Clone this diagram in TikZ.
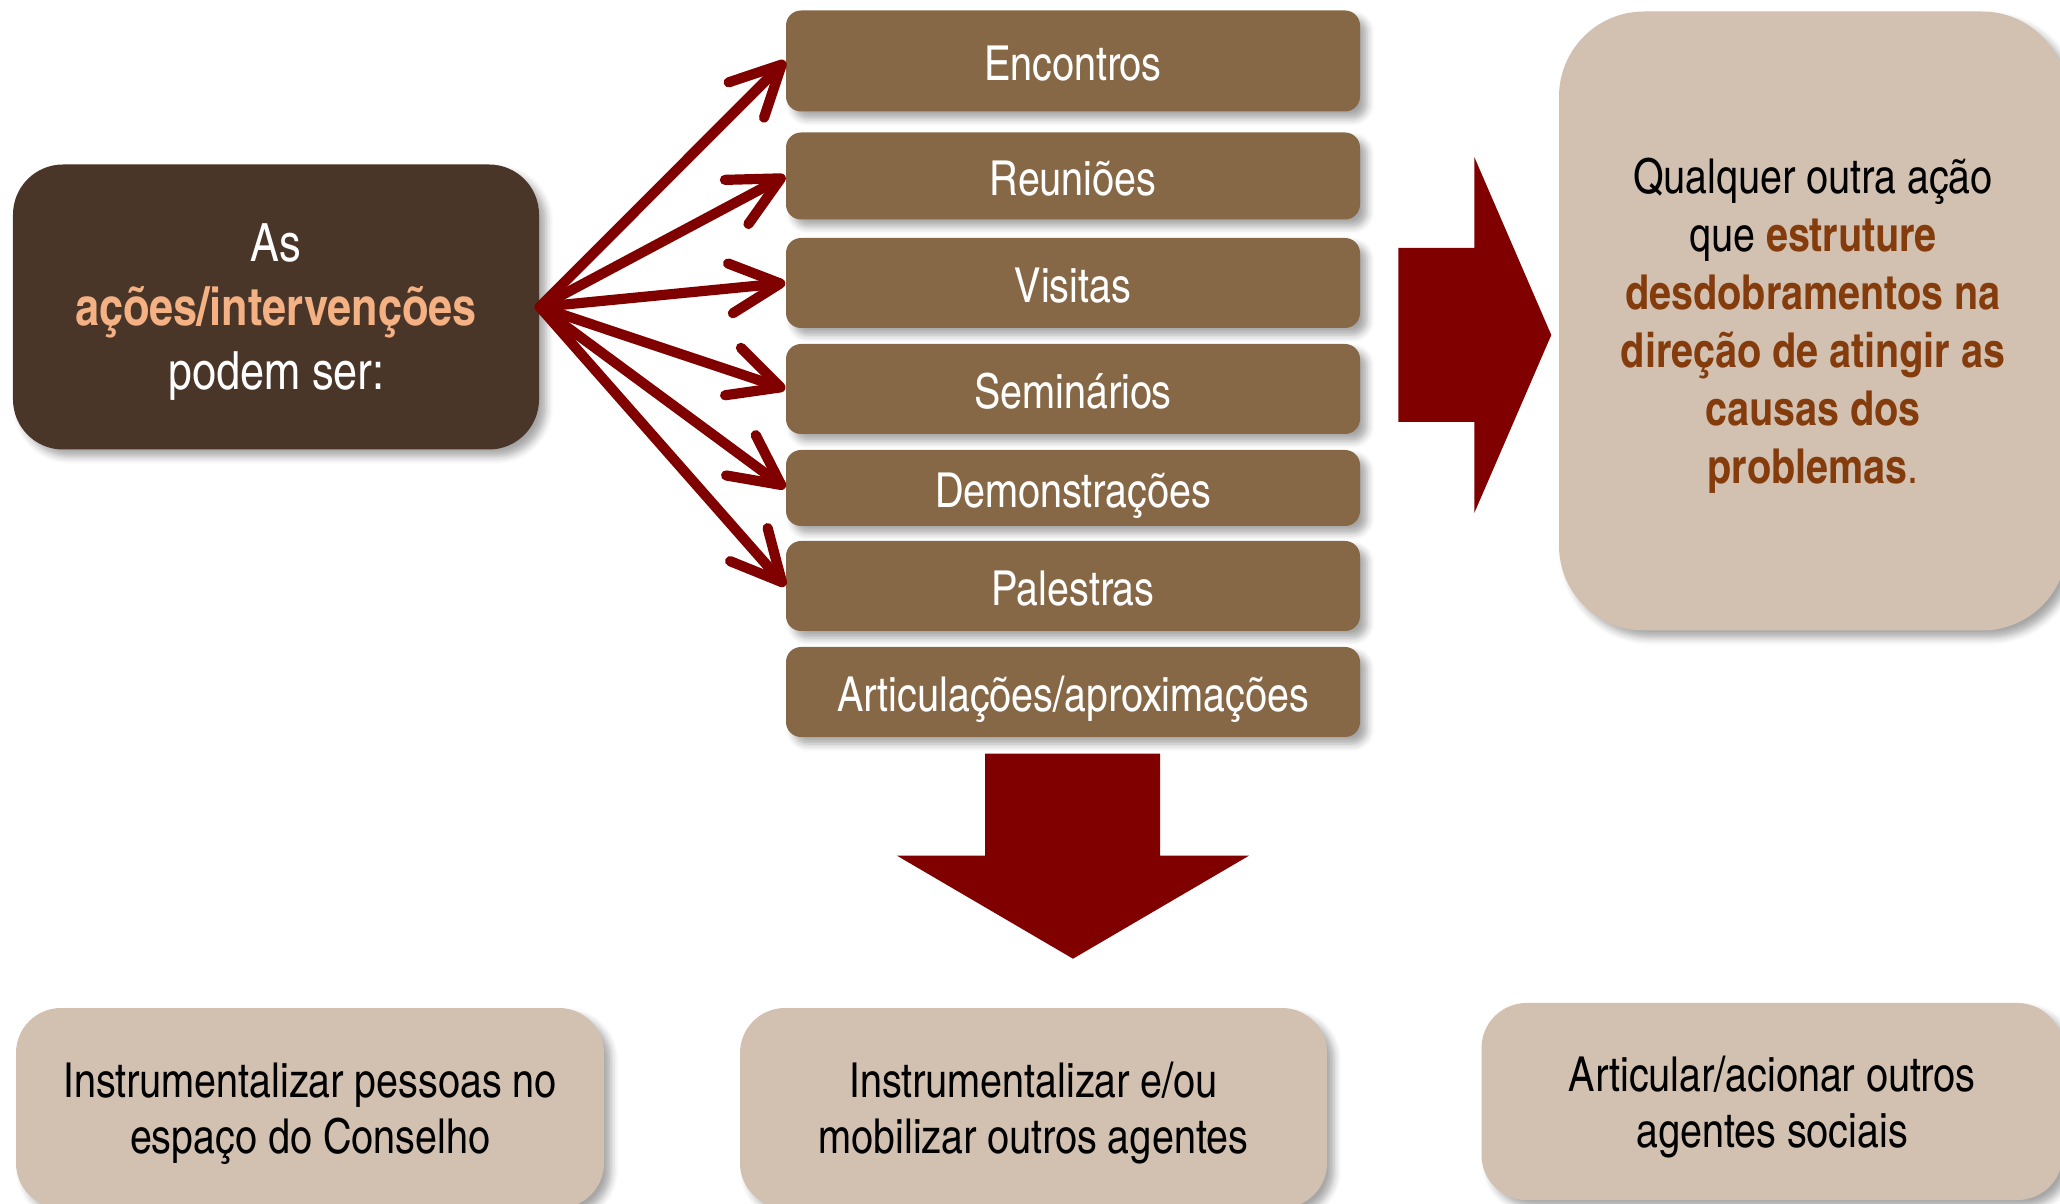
\documentclass[tikz,border=0pt]{standalone}
\usepackage{fontspec}
\setmainfont{texgyreheroscn}[Extension=.otf,UprightFont=*-regular,BoldFont=*-bold]
\usetikzlibrary{calc,arrows.meta,shadows.blur}
\definecolor{escuro}{HTML}{4A3629}
\definecolor{marrom}{HTML}{876846}
\definecolor{areia}{HTML}{D2C1B1}
\definecolor{pessego}{HTML}{F4B183}
\definecolor{ferrugem}{HTML}{843C0C}
\definecolor{vinho}{HTML}{800000}

\begin{document}
\begin{tikzpicture}[
sombra/.style={blur shadow={shadow xshift=0.7mm,shadow yshift=-0.7mm,shadow blur steps=5,shadow opacity=35}},
acao/.style={rectangle,fill=marrom,text=white,minimum width=57.4mm,minimum height=9mm,rounded corners=1.5mm,sombra,text height=11pt,text depth=0pt,font=\fontsize{13.7}{17}\selectfont},
efeito/.style={rectangle,fill=areia,align=center,rounded corners=4.5mm,sombra,text depth=0pt,font=\fontsize{13.7}{16}\selectfont},
seta/.style={-{Straight Barb[length=5mm,width=5mm,round]},line width=2.9pt,vinho,line cap=round,line join=round}
]
\useasboundingbox (0,0) rectangle (20.6,12.03);

\draw node [rectangle,fill=escuro,minimum width=52.6mm,minimum height=28.5mm,rounded corners=5mm,sombra,text=white,align=center,text depth=-2.2pt,font=\fontsize{15}{18.2}\selectfont] (acoes) at (2.76,8.96) {As\\\textbf{\color{pessego}ações/intervenções}\\podem ser:};

\draw node [acao,minimum height=10.1mm] (encontros) at (10.73,11.42) {Encontros};
\draw node [acao,minimum height=8.7mm] (reunioes) at (10.73,10.27) {Reuniões};
\draw node [acao] (visitas) at (10.73,9.20) {Visitas};
\draw node [acao] (seminarios) at (10.73,8.14) {Seminários};
\draw node [acao,minimum height=7.6mm] (demonstracoes) at (10.73,7.15) {Demonstrações};
\draw node [acao] (palestras) at (10.73,6.17) {Palestras};
\draw node [acao] (articulacoes) at (10.73,5.11) {Articulações/aproximações};

\draw[seta] (acoes.east) -- (encontros.west);
\draw[seta] (acoes.east) -- (reunioes.west);
\draw[seta] (acoes.east) -- (visitas.west);
\draw[seta] (acoes.east) -- (seminarios.west);
\draw[seta] (acoes.east) -- (demonstracoes.west);
\draw[seta] (acoes.east) -- (palestras.west);

\draw node [rectangle,fill=areia,minimum width=50.8mm,minimum height=61.9mm,rounded corners=8.5mm,sombra,align=center,text depth=-1pt,font=\fontsize{13.7}{16.5}\selectfont] (outra) at (18.13,8.82) {Qualquer outra ação\\que \textbf{\color{ferrugem}estruture}\\\textbf{\color{ferrugem}desdobramentos na}\\\textbf{\color{ferrugem}direção de atingir as}\\\textbf{\color{ferrugem}causas dos}\\\textbf{\color{ferrugem}problemas}{\color{ferrugem}.}};

\fill[vinho] ($ (outra.west)+(-1.60,0.73)$) -- ($ (outra.west)+(-0.84,0.73)$) -- ($ (outra.west)+(-0.84,1.64)$) -- ($ (outra.west)+(-0.07,-0.14)$) -- ($ (outra.west)+(-0.84,-1.92)$) -- ($ (outra.west)+(-0.84,-1.01)$) -- ($ (outra.west)+(-1.60,-1.01)$) -- cycle;

\draw node [efeito,minimum width=58.8mm,minimum height=20mm] (pessoas) at (3.10,0.95) {Instrumentalizar pessoas no\\espaço do Conselho};
\draw node [efeito,minimum width=58.7mm,minimum height=20mm] (agentes) at (10.335,0.95) {Instrumentalizar e/ou\\mobilizar outros agentes};
\draw node [efeito,minimum width=58.1mm,minimum height=19.7mm] (sociais) at (17.72,1.015) {Articular/acionar outros\\agentes sociais};

\fill[vinho] ($ (articulacoes.south)+(-0.88,-0.16)$) -- ($ (articulacoes.south)+(0.87,-0.16)$) -- ($ (articulacoes.south)+(0.87,-1.18)$) -- ($ (articulacoes.south)+(1.76,-1.18)$) -- ($ (articulacoes.south)+(0,-2.21)$) -- ($ (articulacoes.south)+(-1.76,-1.18)$) -- ($ (articulacoes.south)+(-0.88,-1.18)$) -- cycle;

\end{tikzpicture}
\end{document}
